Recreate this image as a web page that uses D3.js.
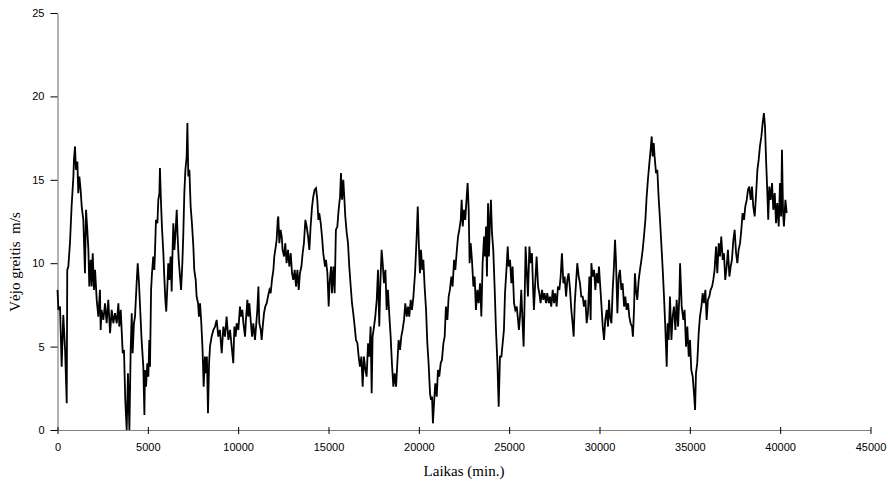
<!DOCTYPE html>
<html>
<head>
<meta charset="utf-8">
<script src="https://cdn.jsdelivr.net/npm/d3@7"></script>
<style>
  html, body { margin: 0; padding: 0; background: #fff; }
  svg { display: block; }
  .tick text { font-family: "Liberation Sans", Arial, sans-serif; font-size: 11px; fill: #000; }
  .title { font-family: "Liberation Serif", "Times New Roman", serif; font-size: 15px; fill: #000; white-space: pre; }
</style>
</head>
<body>
<svg id="chart" width="888" height="483"></svg>
<script>
// Wind speed record: time in minutes and speed in m/s
const minutes = [
  0,50,140,175,230,320,420,510,540,600,690,780,880,910,970,1020,1100,1150,1210,1280,1340,1430,1520,1580,1650,1710,1760,1840,1890,1950,2020,2080,2170,2260,2350,2390,2440,2540,2630,2720,2810,2910,3000,3090,3180,3280,3370,3420,3500,3610,3680,3750,3830,3900,3980,4050,4110,4160,4230,4290,4380,4440,4510,
  4660,4750,4810,4840,4900,4970,5030,5080,5120,5180,5230,5300,5360,5400,5450,5530,5580,5640,5670,5730,5780,5860,5910,5970,6020,6080,6130,6190,6260,6320,6360,6410,6470,6520,6600,6650,6710,6780,6840,6910,6960,7020,7080,7150,7190,7240,7300,7370,7440,7520,7570,7650,7700,7780,7830,7890,7960,8030,8090,8160,8220,8270,8330,8390,8440,8530,8630,8720,8810,8900,8990,9090,9180,9270,9360,9460,9550,
  9730,9790,9860,9920,10010,10100,10160,10230,10290,10380,10430,10510,10560,10620,10690,10770,10840,10930,10990,11060,11120,11170,11250,11300,11360,11430,11500,11580,11650,11730,11800,11870,11950,12000,12080,12130,12190,12220,12280,12350,12410,12460,12540,12610,12680,12760,12830,12910,12980,13050,13130,13200,13280,13350,13420,13500,13570,13640,13720,13790,13870,13940,14010,14090,14160,14230,14310,14380,14440,14490,14570,14640,14710,
  14810,14860,14940,15010,15060,15140,15190,15270,15340,15410,15490,15560,15640,15690,15750,15820,15880,15930,16010,16080,16150,16230,16300,16370,16450,16520,16600,16670,16740,16820,16890,16960,17040,17110,17190,17260,17330,17390,17440,17520,17590,17670,17740,17810,17870,17940,18000,18070,18150,18220,18290,18370,18440,18510,18590,18660,18740,18810,18880,18960,19030,19100,19180,19250,19330,19400,19470,19550,19620,19700,
  19790,19880,19940,20010,20060,20120,20190,20250,20320,20400,20470,20540,20620,20670,20730,20780,20840,20910,20990,21060,21130,21210,21280,21360,21430,21500,21580,21650,21720,21800,21870,21950,22020,22090,22170,22240,22320,22370,22430,22500,22570,22650,22700,22760,22810,22870,22940,23020,23090,23160,23240,23310,23390,23460,23530,23610,23660,23720,23770,23830,23880,23940,23990,24050,24120,24200,24270,24350,24420,24490,24570,24640,24710,24770,
  24860,24920,24970,25050,25120,25190,25270,25340,25420,25490,25540,25600,25670,25750,25800,25860,25910,25970,26040,26120,26190,26260,26320,26370,26450,26520,26600,26670,26740,26820,26890,26960,27040,27110,27190,27260,27330,27410,27480,27550,27630,27700,27780,27850,27920,28000,28070,28150,28220,28290,28370,28440,28510,28570,28630,28700,28770,28850,28920,28990,29070,29140,29220,29290,29360,29440,29510,
  29550,29620,29700,29770,29840,29920,29970,30030,30100,30180,30250,30320,30400,30470,30530,30580,30660,30730,30800,30860,30910,30990,31060,31130,31210,31280,31360,31430,31500,31580,31650,31720,31800,31850,31910,31960,32020,32090,32170,32240,32320,32390,32460,32540,32610,32680,32760,32830,32890,32940,33000,33050,33130,33200,33280,33350,33420,33500,33570,33640,33720,33770,33830,33900,33980,34050,34120,34200,34270,34350,34420,
  34460,34550,34640,34710,34790,34860,34940,35010,35080,35160,35230,35290,35340,35410,35490,35560,35640,35710,35780,35860,35930,36000,36080,36150,36230,36300,36370,36450,36520,36600,36670,36740,36820,36890,36960,37040,37110,37190,37260,37330,37410,37480,37560,37630,37700,37780,37850,37920,38000,38070,38150,38220,38290,38370,38440,38510,38590,38660,38740,38810,38880,38960,39030,39100,39160,39220,39290,39340,39400,39470,39550,39620,39700,39770,39840,39920,39990,40050,40100,40160,40210,40290,40360
];
const speed = [
  8.4,7.2,7.4,6.0,3.8,6.9,4.8,1.6,9.6,9.8,11.2,13.4,15.2,16.2,17.0,15.6,16.1,14.2,15.2,14.4,13.4,12.6,9.4,13.2,12.0,10.8,8.6,10.2,8.6,10.6,8.4,9.6,7.8,6.8,8.4,6.0,7.2,6.6,7.6,6.4,7.8,5.8,7.2,6.4,7.0,6.4,7.6,6.2,7.2,4.6,4.8,1.8,0.0,3.4,0.0,4.8,7.0,4.6,6.4,6.8,8.8,10.0,8.8,
  5.3,3.8,0.9,3.6,2.6,4.0,3.2,5.4,3.8,8.4,9.4,10.4,9.6,10.8,12.6,12.4,13.8,14.2,15.7,13.6,12.2,10.6,9.2,7.8,7.1,8.6,10.0,9.0,10.4,8.3,10.4,12.4,10.8,11.6,13.2,11.6,10.2,9.2,8.4,10.0,11.6,14.2,15.6,16.4,18.4,15.2,15.6,13.4,12.4,11.0,9.6,9.0,8.0,7.6,6.8,7.6,6.4,4.8,2.6,4.4,3.4,4.4,1.0,4.0,5.0,5.6,6.0,6.2,6.6,5.6,6.0,4.6,6.2,5.6,6.8,5.4,6.0,
  4.0,6.2,5.6,6.4,6.0,7.4,6.8,7.2,6.4,5.6,6.6,7.8,6.8,7.6,6.6,5.6,6.4,5.4,6.2,7.2,8.6,6.4,6.0,5.4,6.2,7.0,7.4,7.6,8.0,8.4,8.2,9.0,9.6,10.4,11.0,11.4,12.6,12.8,11.2,12.0,11.6,10.8,10.4,11.2,10.0,10.8,9.8,10.6,9.4,9.0,9.6,8.6,9.6,8.4,9.4,9.8,10.6,11.2,12.6,12.2,11.6,10.8,12.2,13.4,14.0,14.4,14.5,13.8,12.6,13.0,12.4,11.6,10.6,
  9.8,10.2,9.4,7.4,8.8,9.8,8.2,9.8,8.2,12.0,12.2,13.2,14.0,15.4,13.8,15.0,13.8,12.8,11.8,11.2,9.8,8.6,7.6,7.0,6.2,5.4,5.2,4.4,3.8,4.4,2.6,4.4,3.6,3.2,5.2,4.4,6.2,2.2,5.6,6.2,6.8,7.8,9.6,6.2,8.8,10.8,10.0,8.8,9.6,7.2,8.4,6.8,5.6,4.0,2.6,3.4,2.6,4.0,5.4,4.8,5.6,6.0,6.6,7.6,6.8,7.4,6.8,7.8,7.2,8.0,
  9.4,11.6,13.4,10.8,9.4,10.8,9.6,10.2,8.6,7.2,5.2,4.0,2.2,1.8,2.0,0.4,1.6,2.8,2.0,3.6,3.2,4.0,4.2,5.2,5.6,7.4,6.6,8.0,8.4,9.2,8.6,10.2,9.6,10.6,11.6,12.0,12.6,13.8,12.2,13.2,12.6,14.0,14.8,13.2,10.0,11.2,10.2,8.6,9.2,7.2,8.4,7.6,8.8,6.8,10.0,11.6,10.4,12.2,9.2,13.6,10.4,12.6,13.8,11.8,10.8,8.4,6.0,4.0,1.4,4.4,4.4,5.2,6.0,8.2,
  9.8,11.0,9.8,10.2,8.8,9.8,7.6,7.2,7.4,6.6,6.0,6.8,8.4,6.2,5.0,8.0,11.0,9.6,8.0,11.0,10.0,10.6,8.6,7.2,9.0,10.4,8.6,8.2,7.6,8.4,7.8,8.2,7.6,8.2,7.6,8.0,7.4,8.4,7.6,8.2,7.4,8.6,8.4,9.2,10.6,8.8,9.2,8.0,9.0,9.4,8.4,7.2,6.4,5.6,7.6,8.8,10.0,9.2,8.8,8.0,8.0,7.4,7.8,6.4,7.0,9.2,6.6,
  10.0,9.2,9.6,8.4,9.4,8.8,9.8,8.8,7.6,6.2,5.4,6.6,7.2,6.2,7.8,6.8,6.4,8.4,9.8,11.4,10.2,7.0,9.2,9.6,8.4,8.8,7.4,8.0,7.2,7.6,6.8,6.4,6.2,5.6,7.2,9.4,8.4,7.8,9.0,9.6,10.2,10.8,11.6,12.6,14.0,15.0,16.0,16.8,17.6,16.4,17.2,16.4,15.4,15.6,13.8,12.6,11.2,9.6,8.0,6.2,3.8,6.4,5.4,8.0,5.4,6.8,7.4,6.0,7.8,6.2,8.0,
  10.0,7.4,6.6,7.2,5.0,6.2,4.4,5.4,3.6,3.2,2.2,1.2,3.4,4.0,5.8,6.8,7.4,8.2,7.6,8.4,6.6,7.8,8.0,8.4,8.6,9.0,9.6,11.0,9.4,11.2,10.4,11.6,10.2,10.6,9.0,9.8,10.8,9.2,9.8,10.2,11.4,12.0,10.6,10.0,10.8,11.2,12.0,13.0,12.6,13.4,13.8,14.4,14.6,13.8,14.6,13.4,12.8,14.0,15.6,16.2,17.0,17.6,18.4,19.0,18.2,16.2,14.2,12.6,14.6,13.8,14.8,13.2,14.2,12.4,13.6,12.2,14.8,12.8,16.8,13.0,12.2,13.8,13.0
];

// Axis ticks
const xTicks = [0, 5000, 10000, 15000, 20000, 25000, 30000, 35000, 40000, 45000];
const yTicks = [0, 5, 10, 15, 20, 25];

const xTitle = "Laikas (min.)";
const yTitle = "Vėjo greitis  m/s";

const margin = { top: 13, right: 17.5, bottom: 53, left: 57.5 };
const width = 888, height = 483;

const svg = d3.select("#chart");

const x = d3.scaleLinear().domain([0, 45000]).range([margin.left, width - margin.right]);
const y = d3.scaleLinear().domain([0, 25]).range([height - margin.bottom, margin.top]);

const axisColor = "#808080";

// Y axis with outward ticks
const gy = svg.append("g")
  .attr("transform", `translate(${margin.left},0)`)
  .call(d3.axisLeft(y).tickValues(yTicks).tickSizeInner(7).tickSizeOuter(0).tickPadding(6).tickFormat(d3.format("d")));
gy.select(".domain").attr("stroke", axisColor).attr("stroke-width", 1.2);
gy.selectAll(".tick line").attr("stroke", "#000").attr("stroke-width", 1);

// X axis with ticks crossing the axis line
const gx = svg.append("g")
  .attr("transform", `translate(0,${height - margin.bottom})`)
  .call(d3.axisBottom(x).tickValues(xTicks).tickSizeInner(4).tickSizeOuter(0).tickPadding(9).tickFormat(d3.format("d")));
gx.select(".domain").attr("stroke", axisColor).attr("stroke-width", 1.2);
gx.selectAll(".tick line").attr("y1", -3).attr("stroke", "#000").attr("stroke-width", 1);

// Wind speed trace
const data = minutes.map((m, i) => ({ m, v: speed[i] }));
const line = d3.line().x(d => x(d.m)).y(d => y(d.v));
svg.append("path")
  .datum(data)
  .attr("fill", "none")
  .attr("stroke", "#000")
  .attr("stroke-width", 1.8)
  .attr("stroke-linejoin", "miter")
  .attr("d", line);

// Axis titles
svg.append("text")
  .attr("class", "title")
  .attr("x", (margin.left + width - margin.right) / 2)
  .attr("y", 476)
  .attr("text-anchor", "middle")
  .text(xTitle);

svg.append("text")
  .attr("class", "title")
  .attr("transform", "translate(20,262) rotate(-90)")
  .attr("text-anchor", "middle")
  .text(yTitle);
</script>
</body>
</html>
